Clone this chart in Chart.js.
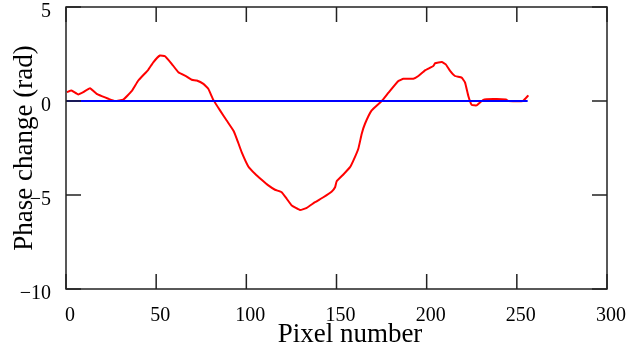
<!DOCTYPE html>
<html>
<head>
<meta charset="utf-8">
<script src="https://cdn.jsdelivr.net/npm/chart.js@4.4.1/dist/chart.umd.min.js"></script>
<style>
  html, body { margin: 0; padding: 0; background: #fff; }
  #wrap { width: 629px; height: 350px; }
</style>
</head>
<body>
<div id="wrap"><canvas id="chart" width="629" height="350"></canvas></div>
<script>
// ---------- DATA ----------
const phaseX = [0.5, 3, 6.8, 9.6, 13.3, 17, 19.8, 23.5, 27.2, 31.8, 36.4, 40.1, 45.6, 48.4, 52.1, 54.9,
  58.6, 62.3, 66.9, 69.7, 72.5, 76.2, 78.9, 81.7, 85.4, 89.1, 92.8, 94.7, 97.4, 101.1, 104.8, 108.5,
  112.2, 115.9, 119.6, 122.4, 125.2, 129.8, 133.5, 138.1, 142.7, 147.4, 149.2, 150.1, 153.8, 157.5,
  159.4, 162.1, 164.0, 165.8, 169.5, 175.1, 178.8, 184.3, 187.1, 192.6, 195.4, 199.1, 203.7, 204.7,
  208.4, 210.6, 213.0, 215.7, 219.4, 221.3, 223.1, 225.0, 227.7, 231.4, 237.0, 244.0, 245.3, 253.3, 256.4];
const phaseY = [0.47, 0.56, 0.35, 0.47, 0.68, 0.38, 0.26, 0.12, 0.0, 0.08, 0.52, 1.09, 1.66, 2.06, 2.42, 2.38,
  1.98, 1.53, 1.30, 1.13, 1.09, 0.91, 0.65, 0.06, -0.5, -1.04, -1.57, -2.01, -2.72, -3.48, -3.87, -4.19,
  -4.49, -4.72, -4.85, -5.20, -5.56, -5.80, -5.68, -5.38, -5.12, -4.81, -4.59, -4.27, -3.91, -3.52,
  -3.16, -2.54, -1.74, -1.21, -0.5, 0.0, 0.44, 1.06, 1.18, 1.18, 1.33, 1.63, 1.86, 2.01,
  2.07, 1.95, 1.60, 1.33, 1.24, 0.98, 0.27, -0.21, -0.23, 0.06, 0.10, 0.08, 0.0, 0.0, 0.30];
const baseX = [0, 256];
const baseY = [0, 0];
const xTicks = [0, 50, 100, 150, 200, 250, 300];
const yTicks = [-10, -5, 0, 5];

const SERIF = "'Liberation Serif', 'DejaVu Serif', serif";

// frame, inward ticks and axis titles
const framePlugin = {
  id: "frame",
  afterDraw(chart) {
    const { ctx, chartArea: a, scales } = chart;
    const len = 15;
    ctx.save();
    ctx.strokeStyle = "#222";
    ctx.lineWidth = 1.5;
    ctx.strokeRect(a.left, a.top, a.right - a.left, a.bottom - a.top);
    ctx.beginPath();
    xTicks.forEach(v => {
      const px = scales.x.getPixelForValue(v);
      ctx.moveTo(px, a.bottom); ctx.lineTo(px, a.bottom - len);
      ctx.moveTo(px, a.top); ctx.lineTo(px, a.top + len);
    });
    yTicks.forEach(v => {
      const py = scales.y.getPixelForValue(v);
      ctx.moveTo(a.left, py); ctx.lineTo(a.left + len, py);
      ctx.moveTo(a.right, py); ctx.lineTo(a.right - len, py);
    });
    ctx.stroke();

    ctx.fillStyle = "#000";
    ctx.font = "27px " + SERIF;
    ctx.textAlign = "center";
    ctx.textBaseline = "alphabetic";
    ctx.fillText("Pixel number", 350, 342);
    ctx.translate(32, (a.top + a.bottom) / 2);
    ctx.rotate(-Math.PI / 2);
    ctx.fillText("Phase change (rad)", 0, 0);
    ctx.restore();
  }
};

new Chart(document.getElementById("chart"), {
  type: "line",
  data: {
    datasets: [
      {
        label: "baseline",
        data: baseX.map((x, i) => ({ x, y: baseY[i] })),
        borderColor: "#0000ff",
        borderWidth: 2,
        pointRadius: 0
      },
      {
        label: "phase",
        data: phaseX.map((x, i) => ({ x, y: phaseY[i] })),
        borderColor: "#ff0000",
        borderWidth: 2,
        pointRadius: 0,
        tension: 0.1
      }
    ]
  },
  plugins: [framePlugin],
  options: {
    responsive: false,
    animation: false,
    layout: { padding: { left: 0, right: 22, top: 7, bottom: 0 } },
    plugins: { legend: { display: false }, tooltip: { enabled: false } },
    scales: {
      x: {
        type: "linear",
        min: 0, max: 300,
        afterBuildTicks: s => { s.ticks = xTicks.map(v => ({ value: v })); },
        afterFit: s => { s.height = 61; s.paddingLeft = 0; s.paddingRight = 0; },
        grid: { display: false },
        border: { display: false },
        ticks: {
          color: "#000",
          font: { family: SERIF, size: 20 },
          padding: 7,
          labelOffset: 4,
          maxRotation: 0
        }
      },
      y: {
        type: "linear",
        min: -10, max: 5,
        afterBuildTicks: s => { s.ticks = yTicks.map(v => ({ value: v })); },
        afterFit: s => { s.width = 66; s.paddingTop = 0; s.paddingBottom = 0; },
        grid: { display: false },
        border: { display: false },
        ticks: {
          color: "#000",
          font: { family: SERIF, size: 20 },
          padding: 7,
          labelOffset: 5,
          callback: v => v < 0 ? "\u2212" + Math.abs(v) : String(v)
        }
      }
    }
  }
});
</script>
</body>
</html>
